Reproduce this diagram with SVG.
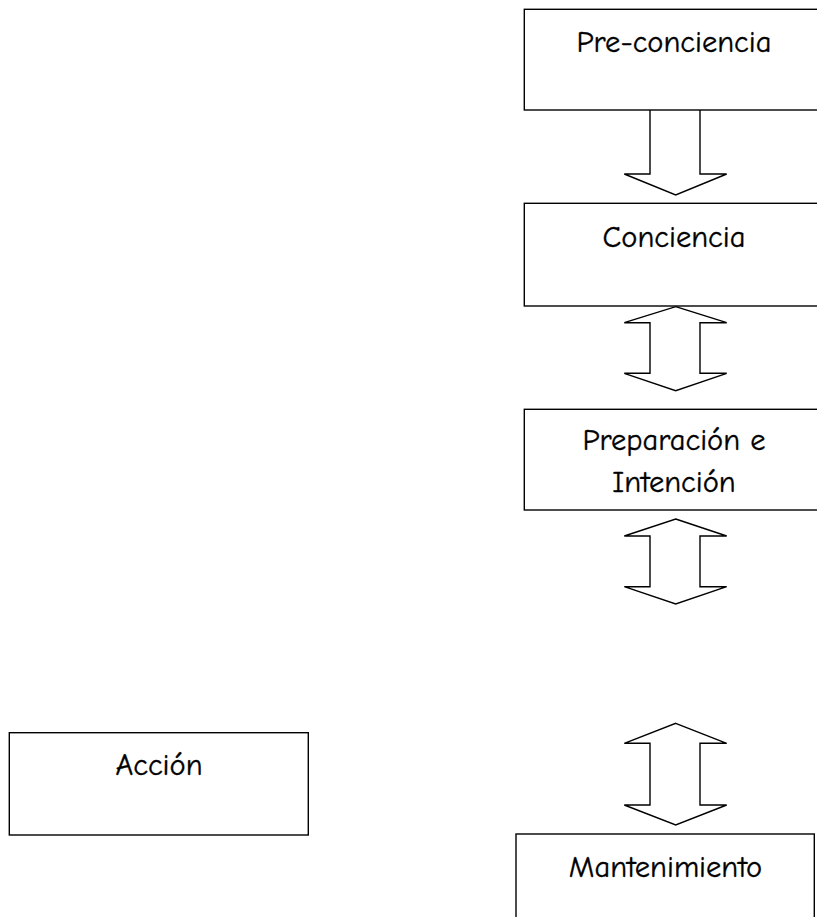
<svg xmlns="http://www.w3.org/2000/svg" width="817" height="917" viewBox="0 0 817 917">
<style>
.box{fill:#fff;stroke:#000;stroke-width:1.4}
.arr{fill:#fff;stroke:#000;stroke-width:1.4;stroke-linejoin:miter}
text{font-family:"Comic Sans MS","Comic Neue","DejaVu Sans","Noto Sans",sans-serif;font-size:30.5px;fill:#000;stroke:#000;stroke-width:0.35;text-anchor:middle}
</style>
<rect width="817" height="917" fill="#fff"/>
<g id="connectors">
<path class="arr" d="M650,110 V174 H624.3 L675.7,195 L726.7,174 H700 V110"/>
<path class="arr" d="M675.7,306.7 L726.7,322.7 H700 V373.3 H726.7 L675.7,390.7 L624.3,373.3 H650 V322.7 H624.3 Z"/>
<path class="arr" d="M675.7,519 L726.7,536 H700 V586.7 H726.7 L675.7,604 L624.3,586.7 H650 V536 H624.3 Z"/>
<path class="arr" d="M675.7,723.3 L726.7,743.3 H700 V805 H726.7 L675.7,825 L624.3,805 H650 V743.3 H624.3 Z"/>
</g>
<g id="pre-conciencia">
<rect class="box" x="524.3" y="9.3" width="300" height="100.7"/>
<text x="674" y="52">Pre-conciencia</text>
</g>
<g id="conciencia">
<rect class="box" x="524.3" y="203.3" width="300" height="102.7"/>
<text x="674" y="247">Conciencia</text>
</g>
<g id="preparacion">
<rect class="box" x="524.3" y="409.3" width="300" height="100.7"/>
<text x="674" y="450">Preparación e</text>
<text x="674" y="492">Intención</text>
</g>
<g id="accion">
<rect class="box" x="9.3" y="732.7" width="299" height="102.3"/>
<text x="159" y="775">Acción</text>
</g>
<g id="mantenimiento">
<rect class="box" x="516" y="834" width="298.3" height="100"/>
<text x="665.5" y="877">Mantenimiento</text>
</g>
</svg>
